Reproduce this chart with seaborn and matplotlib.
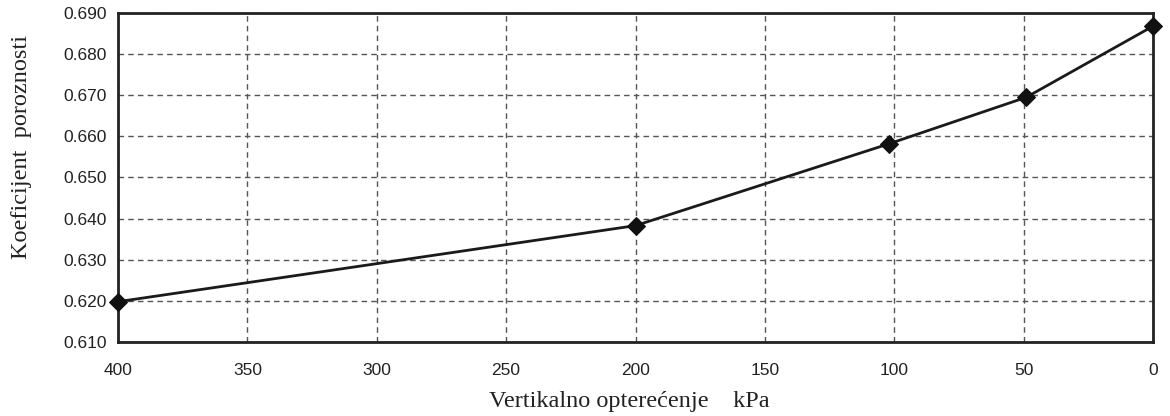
import matplotlib
matplotlib.use("Agg")
import matplotlib.pyplot as plt
import seaborn as sns
import pandas as pd

load_kpa = [400, 200, 102, 49, 0]
void_ratio = [0.6198, 0.6383, 0.6582, 0.6695, 0.6868]
x_ticks = [400, 350, 300, 250, 200, 150, 100, 50, 0]
y_ticks = [0.610, 0.620, 0.630, 0.640, 0.650, 0.660, 0.670, 0.680, 0.690]

df = pd.DataFrame({"load": load_kpa, "e": void_ratio})

sns.set_theme(style="white")
plt.rcParams['font.family'] = ['Liberation Sans', 'DejaVu Sans']

fig = plt.figure(figsize=(11.7, 4.16), dpi=100)
ax = fig.add_axes([118/1170, 1 - 342/416, (1153-118)/1170, (342-13)/416])

sns.lineplot(data=df, x="load", y="e", ax=ax, color="#1a1a1a", linewidth=2.0,
             marker="D", markersize=9, markerfacecolor="#111111",
             markeredgecolor="#111111", zorder=5, clip_on=False)

ax.set_xlim(400, 0)
ax.set_ylim(0.610, 0.690)
ax.set_xticks(x_ticks)
ax.set_xticklabels([str(v) for v in x_ticks])
ax.set_yticks(y_ticks)
ax.set_yticklabels([f"{v:.3f}" for v in y_ticks])
ax.grid(True, linestyle=(0, (4, 3)), color="#555555", linewidth=1.0)
ax.tick_params(axis="both", length=0, labelsize=12.5, colors="#222222")
ax.tick_params(axis="x", pad=15)
ax.tick_params(axis="y", pad=8)
for s in ax.spines.values():
    s.set_color("#222222")
    s.set_linewidth(2.0)

ax.set_xlabel("Vertikalno opterećenje    kPa", fontfamily="Liberation Serif",
              fontsize=17.5, color="#222222")
ax.xaxis.label.set_va("center")
ax.xaxis.set_label_coords(0.494, -0.182)
ax.set_ylabel("Koeficijent  poroznosti", fontfamily="Liberation Serif",
              fontsize=17.5, color="#222222")
ax.yaxis.label.set_va("center")
ax.yaxis.set_label_coords(-0.0928, 0.593)

fig.savefig("out.png", dpi=100, facecolor="white")
